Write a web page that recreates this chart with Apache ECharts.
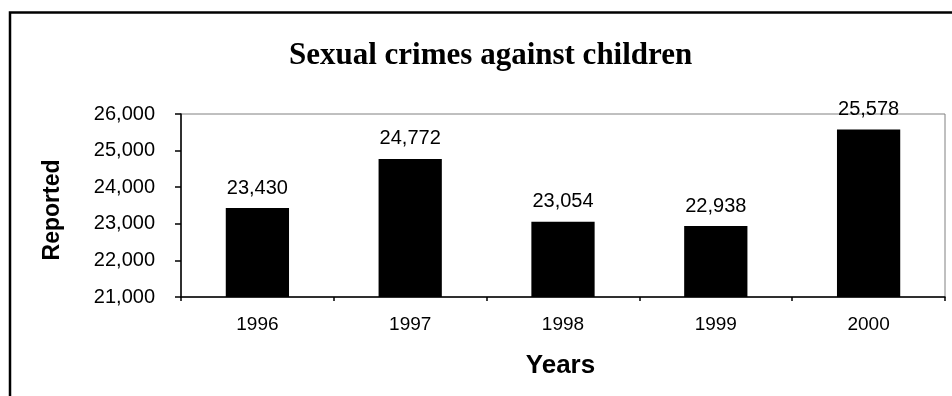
<!DOCTYPE html>
<html>
<head>
<meta charset="utf-8">
<script src="https://cdn.jsdelivr.net/npm/echarts@6/dist/echarts.min.js"></script>
<style>
html,body{margin:0;padding:0;background:#fff;}
#chart{width:952px;height:396px;}
</style>
</head>
<body>
<div id="chart"></div>
<script>
const titleText = 'Sexual crimes against children';
const categories = ['1996', '1997', '1998', '1999', '2000'];
const reported = [23430, 24772, 23054, 22938, 25578];
const yTicks = [21000, 22000, 23000, 24000, 25000, 26000];
const xAxisTitle = 'Years';
const yAxisTitle = 'Reported';

const fmt = v => v.toLocaleString('en-US');

const chart = echarts.init(document.getElementById('chart'), null, {renderer: 'canvas'});
chart.setOption({
  animation: false,
  backgroundColor: '#fff',
  title: {
    text: titleText,
    left: 284,
    top: 35,
    textStyle: {fontFamily: 'Liberation Serif', fontWeight: 'bold', fontSize: 31, color: '#000'}
  },
  graphic: [{
    type: 'rect',
    shape: {x: 10, y: 12.5, width: 1000, height: 500},
    style: {fill: 'none', stroke: '#000', lineWidth: 2.5},
    silent: true
  }, {
    type: 'text',
    x: 53, y: 210,
    rotation: Math.PI / 2,
    style: {
      text: yAxisTitle, fill: '#000',
      font: 'bold 23px "Liberation Sans"',
      align: 'center', verticalAlign: 'middle'
    },
    silent: true
  }],
  grid: {
    left: 181, right: 7, top: 114, bottom: 99,
    show: true, borderColor: '#808080', borderWidth: 1, containLabel: false
  },
  xAxis: {
    type: 'category',
    data: categories,
    name: xAxisTitle,
    nameLocation: 'middle',
    nameGap: 56,
    nameTextStyle: {fontFamily: 'Liberation Sans', fontWeight: 'bold', fontSize: 26, color: '#000', padding: [0, 5, 0, 0]},
    axisLine: {lineStyle: {color: '#000', width: 1.5}},
    axisTick: {show: true, length: 4, lineStyle: {color: '#000', width: 1.5}},
    axisLabel: {fontFamily: 'Liberation Sans', fontSize: 19, color: '#000', margin: 18}
  },
  yAxis: {
    type: 'value',
    min: yTicks[0],
    max: yTicks[yTicks.length - 1],
    interval: 1000,
    axisLine: {show: true, lineStyle: {color: '#000', width: 1.5}},
    axisTick: {show: true, length: 6, lineStyle: {color: '#000', width: 1.5}},
    splitLine: {show: false},
    axisLabel: {fontFamily: 'Liberation Sans', fontSize: 20, color: '#000', margin: 26, formatter: fmt}
  },
  series: [{
    type: 'bar',
    data: reported,
    barWidth: '41.4%',
    itemStyle: {color: '#000'},
    label: {
      show: true, position: 'top', distance: 10,
      fontFamily: 'Liberation Sans', fontSize: 20, color: '#000',
      formatter: p => fmt(p.value)
    }
  }]
});
</script>
</body>
</html>
